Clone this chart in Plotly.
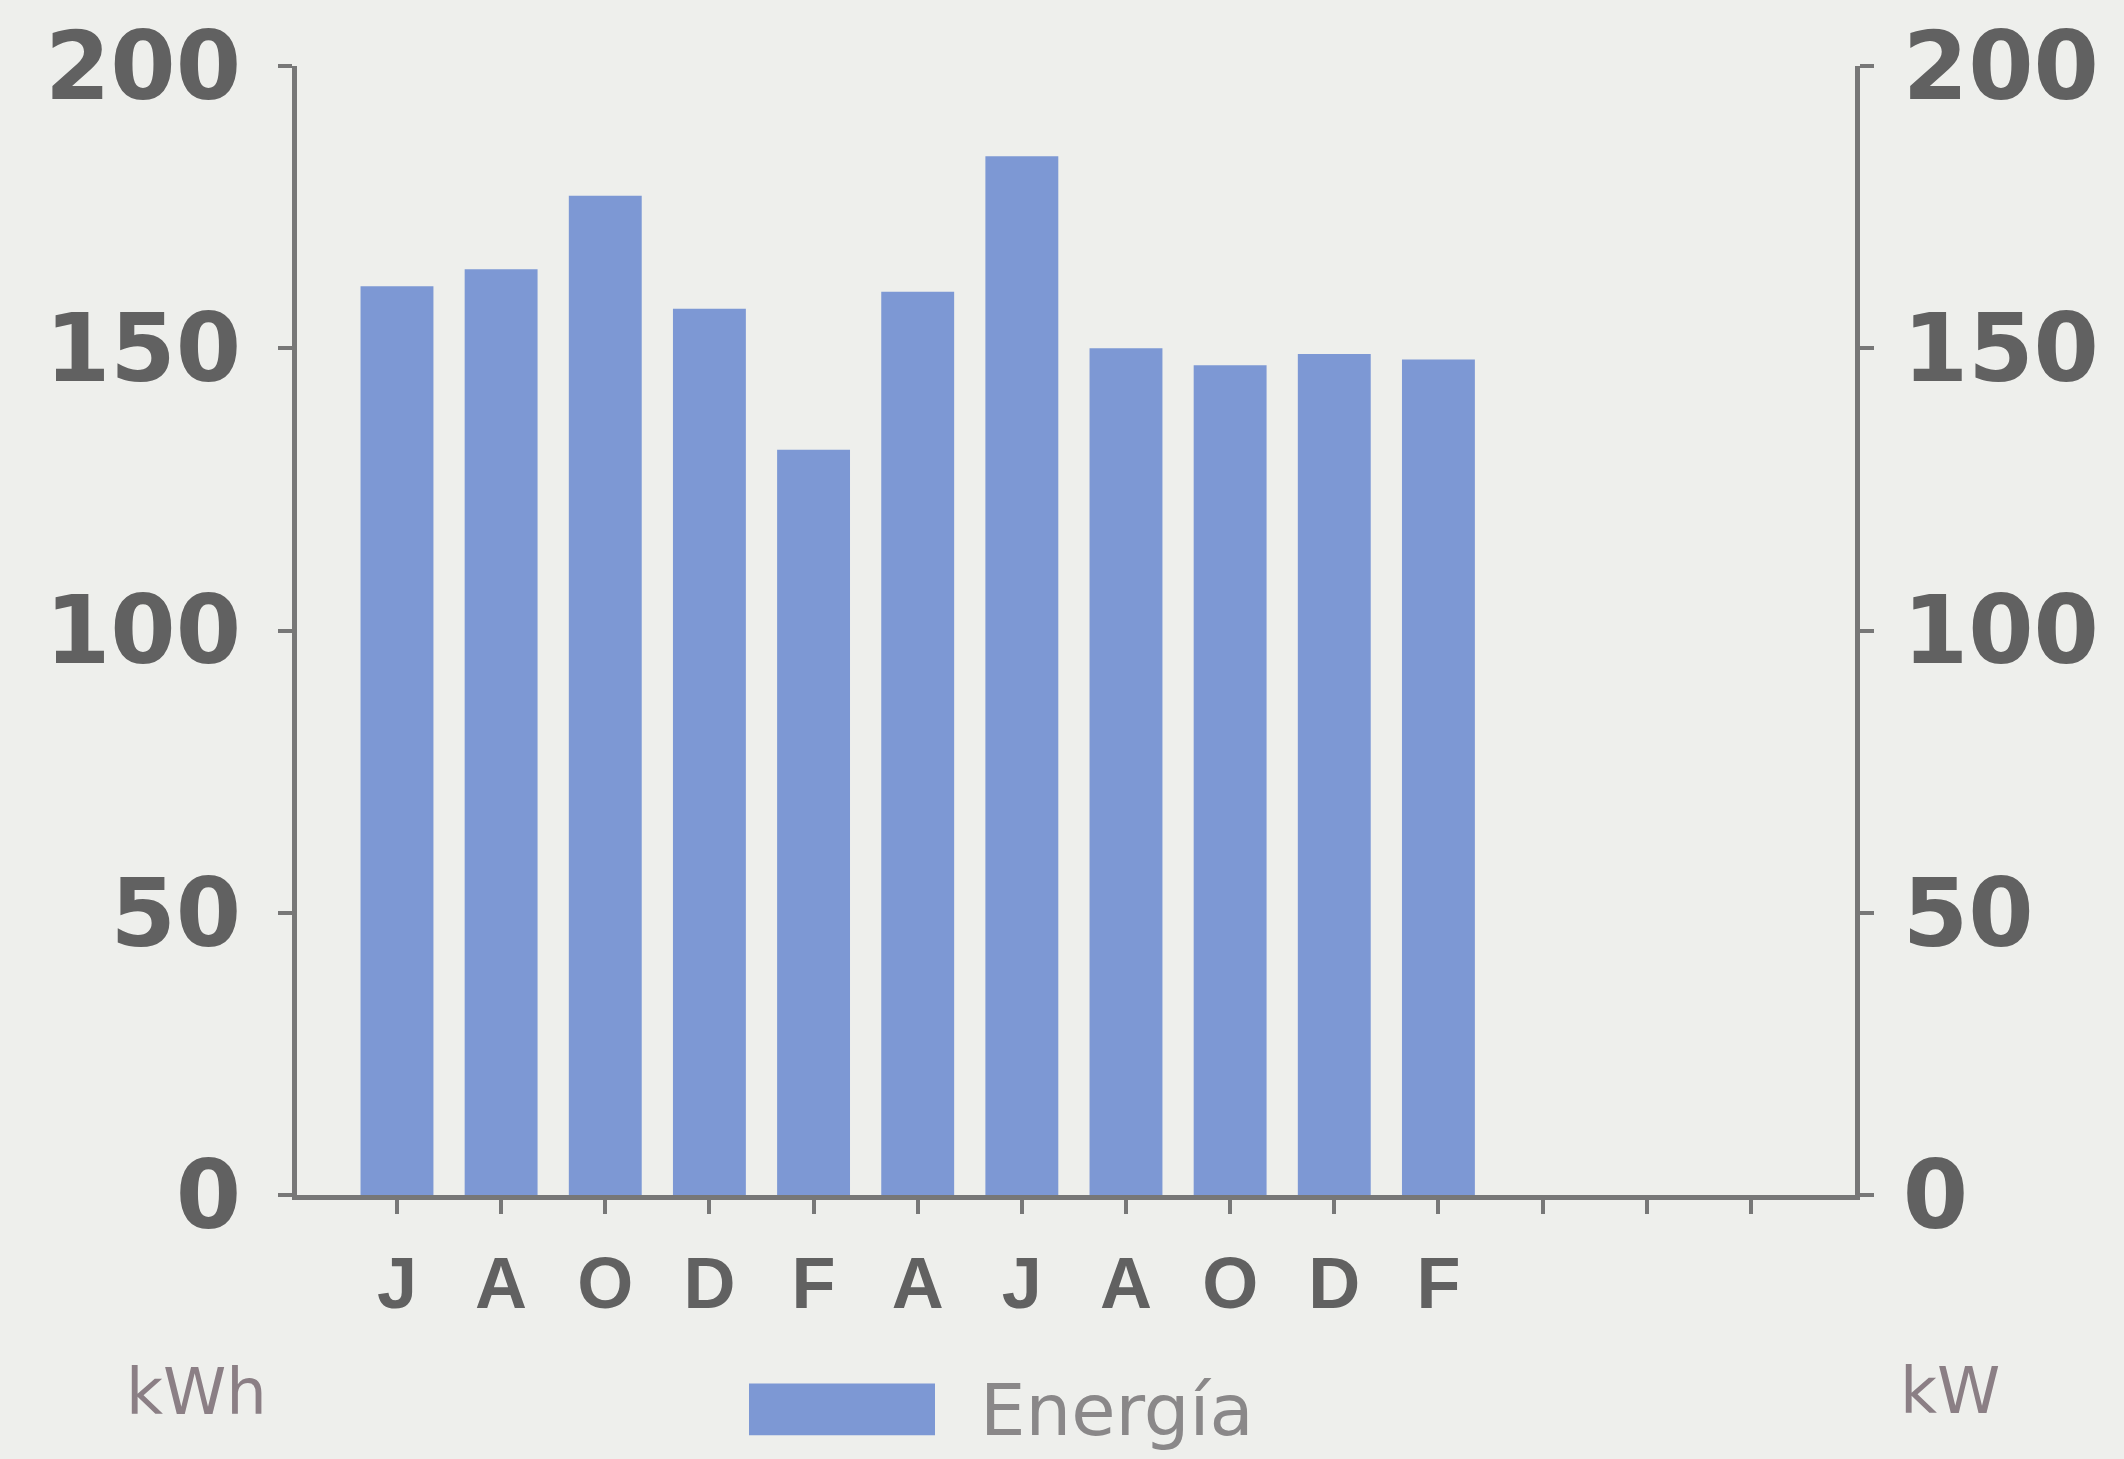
import plotly.graph_objects as go

# Data
months = ["J", "A", "O", "D", "F", "A", "J", "A", "O", "D", "F"]
extra_ticks = ["", "", ""]
energia = [161, 164, 177, 157, 132, 160, 184, 150, 147, 149, 148]
y_ticks = [0, 50, 100, 150, 200]

W, H = 2124, 1459
L, R, T, B = 297, 269, 63, 264
BG = "#eeefec"
BAR = "#7d98d4"
AX = "#777777"
TXT = "#616161"

x_pos = list(range(len(months)))
tick_pos = list(range(len(months) + len(extra_ticks)))
tick_text = months + extra_ticks

fig = go.Figure()
fig.add_trace(go.Bar(x=x_pos, y=energia, width=0.7, marker=dict(color=BAR, line=dict(width=0)),
                     name="Energía", showlegend=False))

pw = W - L - R
ph = H - T - B

def px(xp):
    return (xp - L) / pw

def py(yp):
    return (H - B - yp) / ph

fig.update_layout(
    width=W, height=H,
    margin=dict(l=L, r=R, t=T, b=B, pad=0),
    paper_bgcolor=BG, plot_bgcolor=BG,
    xaxis=dict(range=[-0.96, 14.0], tickvals=tick_pos, ticktext=tick_text,
               showgrid=False, zeroline=False, showline=True, linecolor=AX, linewidth=5,
               ticks="outside", ticklen=14, tickwidth=4, tickcolor=AX,
               ticklabelstandoff=8,
               tickfont=dict(family="Liberation Sans", size=72, color=TXT, weight="bold")),
    yaxis=dict(range=[0, 200], tickvals=y_ticks, showgrid=False, zeroline=False,
               showline=True, linecolor=AX, linewidth=5,
               ticks="outside", ticklen=14, tickwidth=4, tickcolor=AX,
               ticklabelstandoff=18,
               tickfont=dict(family="DejaVu Sans", size=94, color=TXT, weight="bold")),
    yaxis2=dict(range=[0, 200], tickvals=y_ticks, overlaying="y", side="right",
                showgrid=False, zeroline=False, showline=True, linecolor=AX, linewidth=5,
                ticks="outside", ticklen=14, tickwidth=4, tickcolor=AX,
                ticklabelstandoff=10,
                tickfont=dict(family="DejaVu Sans", size=94, color=TXT, weight="bold")),
)

# invisible trace to anchor the right axis
fig.add_trace(go.Scatter(x=[None], y=[None], yaxis="y2", showlegend=False, hoverinfo="skip"))

# Legend drawn manually (large swatch)
fig.add_shape(type="rect", xref="paper", yref="paper",
              x0=px(749), x1=px(935), y0=py(1436), y1=py(1384),
              fillcolor=BAR, line=dict(width=0))
fig.add_annotation(xref="paper", yref="paper", x=px(978), y=py(1411),
                   xanchor="left", yanchor="middle", showarrow=False,
                   text="Energía", font=dict(family="DejaVu Sans", size=72, color="#8a8889"))
fig.add_annotation(xref="paper", yref="paper", x=px(196), y=py(1393),
                   xanchor="center", yanchor="middle", showarrow=False,
                   text="kWh", font=dict(family="DejaVu Sans", size=64, color="#8b7f85"))
fig.add_annotation(xref="paper", yref="paper", x=px(1950), y=py(1392),
                   xanchor="center", yanchor="middle", showarrow=False,
                   text="kW", font=dict(family="DejaVu Sans", size=64, color="#8b7f85"))

fig.write_html("out.html", config={"displayModeBar": False},
               post_script="document.body.style.margin='0';document.body.style.background='%s';" % BG)
